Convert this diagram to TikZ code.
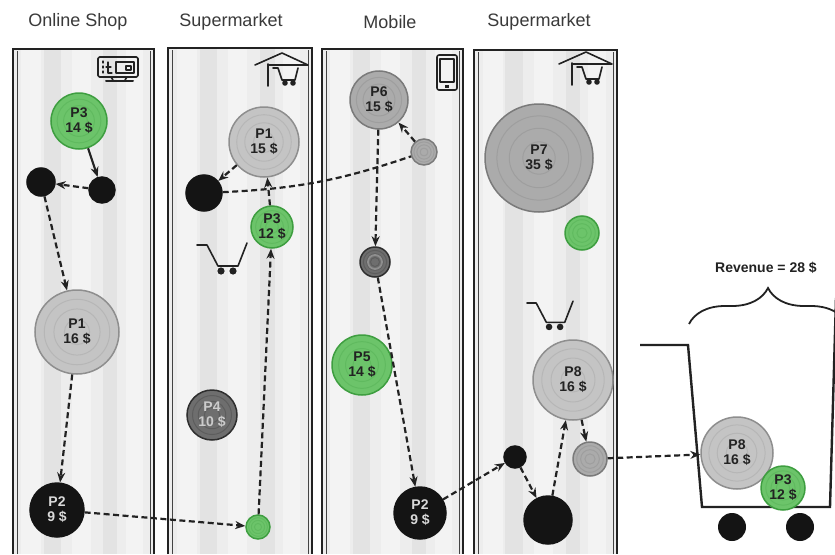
\documentclass[tikz,border=0pt]{standalone}
\usepackage{fontspec}
\setmainfont{Liberation Sans}
\usetikzlibrary{arrows.meta,decorations.pathreplacing}

\definecolor{lanebg}{HTML}{EDEDED}
\definecolor{stripe}{HTML}{E3E3E3}
\definecolor{stripelt}{HTML}{F3F3F3}
\definecolor{ink}{HTML}{222222}
\definecolor{titlecol}{HTML}{3A3A3A}
\definecolor{grn}{HTML}{6CC46A}
\definecolor{grnring}{HTML}{3E9E40}
\definecolor{lgray}{HTML}{C4C4C4}
\definecolor{lgring}{HTML}{8E8E8E}
\definecolor{mgray}{HTML}{ABABAB}
\definecolor{mgring}{HTML}{7A7A7A}
\definecolor{dgray}{HTML}{6E6E6E}
\definecolor{dgring}{HTML}{2E2E2E}
\definecolor{blk}{HTML}{141414}

\tikzset{
  title/.style={font=\fontsize{18}{20}\selectfont, text=titlecol},
  token/.style={circle, inner sep=0pt, align=center, line width=1.5pt,
    font=\bfseries\fontsize{14}{15}\selectfont, text=ink},
  flow/.style={ink, line width=2.2pt, dash pattern=on 6pt off 3.5pt,
    -{Stealth[length=10pt,width=8pt]}},
  solidflow/.style={ink, line width=2.2pt, -{Stealth[length=10pt,width=8pt]}},
  icon/.style={ink, line width=1.6pt, line join=round, line cap=round},
}

% one swim lane: left x, right x, top y
\newcommand\lane[3]{%
  \fill[lanebg] (#1,#3) rectangle (#2,554);
  \fill[stripelt] ({#1+0.06*(#2-#1)},#3) rectangle ({#1+0.2*(#2-#1)},554);
  \fill[stripe] ({#1+0.22*(#2-#1)},#3) rectangle ({#1+0.34*(#2-#1)},554);
  \fill[stripelt] ({#1+0.42*(#2-#1)},#3) rectangle ({#1+0.55*(#2-#1)},554);
  \fill[stripe] ({#1+0.64*(#2-#1)},#3) rectangle ({#1+0.74*(#2-#1)},554);
  \fill[stripelt] ({#1+0.8*(#2-#1)},#3) rectangle ({#1+0.92*(#2-#1)},554);
  \draw[ink, line width=1.8pt] (#1,554) -- (#1,#3) -- (#2,#3) -- (#2,554);
  \draw[ink!85, line width=1pt] ({#1+4},554) -- ({#1+4},{#3+2});
  \draw[ink!85, line width=1pt] ({#2-4},554) -- ({#2-4},{#3+2});
}

% a product token: name, x, y, radius, fill, ring colour, text
\newcommand\tok[7]{%
  \fill[#5] (#2,#3) circle[radius=#4];
  \foreach \f in {0.3,0.55,0.78}{%
    \draw[#6, line width=1pt, opacity=0.25] (#2,#3) circle[radius=\f*#4];}
  \node[token, minimum size={2*#4}, draw=#6] (#1) at (#2,#3) {#7};
}

% shopping cart icon
\newcommand\cartico[3]{%
  \begin{scope}[shift={(#1,#2)}, scale=#3]
    \draw[icon] (0,0) -- (10,0) -- (21,21) -- (41,21) -- (50,-2);
    \fill[ink] (24,26) circle[radius=3.6] (36,26) circle[radius=3.6];
  \end{scope}
}

% supermarket icon: house roof with a cart inside
\newcommand\marketico[2]{%
  \begin{scope}[shift={(#1,#2)}]
    \draw[icon] (0,0) -- (27,-12) -- (53,0) -- (13,0);
    \draw[icon] (13,-1) -- (13,21);
    \draw[icon] (18,3) -- (23,3) -- (27,15) -- (40,15) -- (43,3);
    \fill[ink] (30,18) circle[radius=2.8] (38,18) circle[radius=2.8];
  \end{scope}
}

\begin{document}
\begin{tikzpicture}[x=1pt, y=-1pt]
\useasboundingbox (0,0) rectangle (835,554);
\fill[white] (0,0) rectangle (835,554);

% ---- channel titles ----
\node[title] (t1) at (78,22) {Online Shop};
\node[title] (t2) at (231,22) {Supermarket};
\node[title] (t3) at (390,22) {Mobile};
\node[title] (t4) at (539,22) {Supermarket};

% ---- swim lanes ----
\lane{13}{154}{49}
\lane{168}{312}{48}
\lane{322}{463}{49}
\lane{474}{617}{50}

% ---- lane icons ----
% computer screen
\draw[icon, rounded corners=1.5pt] (98,57) rectangle (138,77);
\draw[icon, line width=1.2pt] (116,62) rectangle (134,73);
\draw[icon, line width=1.2pt] (126,66) rectangle (131,70);
\draw[icon, line width=1.2pt] (103,61) -- (103,63) (103,66) -- (103,68) (103,71) -- (103,73);
\draw[icon, line width=1.2pt] (108,62) -- (108,73) -- (112,73) (106,67) -- (111,67);
\draw[icon] (111,77) -- (113,80) (127,77) -- (125,80);
\draw[icon, line width=2pt] (106,81) -- (133,81);
\marketico{255}{65}
% mobile phone
\draw[icon, rounded corners=2pt] (437,55) rectangle (457,90);
\draw[icon, line width=1.1pt] (440,59) rectangle (454,82);
\fill[ink] (445,84.5) rectangle (449,87.5);
\marketico{559}{64}
% carts inside the lanes
\cartico{197}{245}{1}
\cartico{527}{303}{0.92}

% ---- purchase cart ----
\draw[ink, line width=2.4pt, line join=miter]
  (640,345) -- (688,345) -- (702,507) -- (830,507) -- (836,298);
\fill[blk] (732,527) circle[radius=14] (800,527) circle[radius=14];
\draw[ink, line width=1.8pt, decorate,
  decoration={brace, amplitude=36pt, aspect=0.5}] (689,324) -- (847,324);
\node[font=\bfseries\fontsize{14}{16}\selectfont, text=ink] (rev) at (766,268) {Revenue = 28 \$};

% ---- Online Shop ----
\tok{a3}{79}{121}{28}{grn}{grnring}{P3\\14 \$}
\tok{ad1}{41}{182}{14}{blk}{blk}{}
\tok{ad2}{102}{190}{13}{blk}{blk}{}
\tok{a1}{77}{332}{42}{lgray}{lgring}{P1\\16 \$}
\tok{a2}{57}{510}{27}{blk}{blk}{\color{white!85!black}P2\\\color{white!85!black}9 \$}

% ---- Supermarket ----
\tok{b1}{264}{142}{35}{lgray}{lgring}{P1\\15 \$}
\tok{bd}{204}{193}{18}{blk}{blk}{}
\tok{b3}{272}{227}{21}{grn}{grnring}{P3\\12 \$}
\tok{b4}{212}{415}{25}{dgray}{dgring}{\color{white!80!black}P4\\\color{white!80!black}10 \$}
\tok{bg}{258}{527}{12}{grn}{grnring}{}

% ---- Mobile ----
\tok{c6}{379}{100}{29}{mgray}{mgring}{P6\\15 \$}
\tok{cg}{424}{152}{13}{mgray}{mgring}{}
\tok{cr}{375}{262}{15}{dgray}{dgring}{}
\draw[lgring, line width=1.8pt] (375,262) circle[radius=7];
\tok{c5}{362}{365}{30}{grn}{grnring}{P5\\14 \$}
\tok{c2}{420}{513}{26}{blk}{blk}{\color{white!85!black}P2\\\color{white!85!black}9 \$}

% ---- Supermarket ----
\tok{d7}{539}{158}{54}{mgray}{mgring}{P7\\35 \$}
\tok{dg}{582}{233}{17}{grn}{grnring}{}
\tok{d8}{573}{380}{40}{lgray}{lgring}{P8\\16 \$}
\tok{dd}{515}{457}{11}{blk}{blk}{}
\tok{dbig}{548}{520}{24}{blk}{blk}{}
\tok{ds}{590}{459}{17}{mgray}{mgring}{}

% ---- cart content ----
\tok{e8}{737}{453}{36}{lgray}{lgring}{P8\\16 \$}
\tok{e3}{783}{488}{22}{grn}{grnring}{P3\\12 \$}

% ---- customer journey ----
\draw[solidflow] (a3) -- (ad2);
\draw[flow] (ad2) -- (ad1);
\draw[flow] (ad1) -- (a1);
\draw[flow] (a1) -- (a2);
\draw[flow] (a2) -- (bg);
\draw[flow] (bg) -- (b3);
\draw[flow] (b3) -- (b1);
\draw[flow] (b1) -- (bd);
\draw[ink, line width=2.2pt, dash pattern=on 6pt off 3.5pt] (bd) to[bend right=8] (cg);
\draw[flow] (cg) -- (c6);
\draw[flow] (c6) -- (cr);
\draw[flow] (cr) -- (c2);
\draw[flow] (c2) -- (dd);
\draw[flow] (dd) -- (dbig);
\draw[flow] (dbig) -- (d8);
\draw[flow] (d8) -- (ds);
\draw[flow] (ds) -- (e8);
\end{tikzpicture}
\end{document}
